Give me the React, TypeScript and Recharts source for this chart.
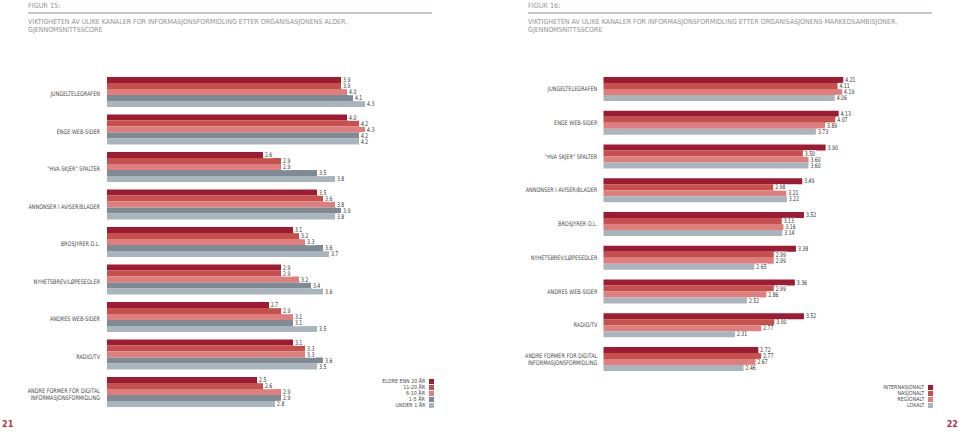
import React from 'react'
import { BarChart, Bar, XAxis, YAxis, LabelList } from 'recharts'

const CATEGORIES = [
  'JUNGELTELEGRAFEN',
  'ENGE WEB-SIDER',
  '"HVA SKJER" SPALTER',
  'ANNONSER I AVISER/BLADER',
  'BROSJYRER O.L.',
  'NYHETSBREV/LØPESEDLER',
  'ANDRES WEB-SIDER',
  'RADIO/TV',
  'ANDRE FORMER FOR DIGITAL\nINFORMASJONSFORMIDLING',
]

// Figur 15: by organisation age
const AGE_LABELS = ['ELDRE ENN 20 ÅR', '11-20 ÅR', '6-10 ÅR', '1-5 ÅR', 'UNDER 1 ÅR']
const over20 = [3.9, 4.0, 2.6, 3.5, 3.1, 2.9, 2.7, 3.1, 2.5]
const y11to20 = [3.9, 4.2, 2.9, 3.6, 3.2, 2.9, 2.9, 3.3, 2.6]
const y6to10 = [4.0, 4.3, 2.9, 3.8, 3.3, 3.2, 3.1, 3.3, 2.9]
const y1to5 = [4.1, 4.2, 3.5, 3.9, 3.6, 3.4, 3.1, 3.6, 2.9]
const under1 = [4.3, 4.2, 3.8, 3.8, 3.7, 3.6, 3.5, 3.5, 2.8]

// Figur 16: by market ambition
const MARKET_LABELS = ['INTERNASJONALT', 'NASJONALT', 'REGIONALT', 'LOKALT']
const internasjonalt = [4.21, 4.13, 3.90, 3.49, 3.52, 3.38, 3.36, 3.52, 2.72]
const nasjonalt = [4.11, 4.07, 3.50, 2.98, 3.13, 2.99, 2.99, 3.00, 2.77]
const regionalt = [4.19, 3.89, 3.60, 3.21, 3.16, 2.99, 2.86, 2.77, 2.67]
const lokalt = [4.06, 3.73, 3.60, 3.22, 3.14, 2.65, 2.52, 2.31, 2.46]

const C_DARK = '#9d1c33'
const C_MID = '#c5514f'
const C_LIGHT = '#e07d7d'
const C_GRAY = '#7e8b95'
const C_PALE = '#a9b5bd'

const AGE_COLORS = [C_DARK, C_MID, C_LIGHT, C_GRAY, C_PALE]
const MARKET_COLORS = [C_DARK, C_MID, C_LIGHT, C_PALE]

const FONT = '"DejaVu Sans Condensed", "Liberation Sans", sans-serif'
const HEAD_FONT = '"DejaVu Sans Condensed", "Liberation Sans", sans-serif'
const SQUEEZE = 0.8
const TICK_SQUEEZE = 0.87

const ageRows = CATEGORIES.map((name, i) => ({
  name, s0: over20[i], s1: y11to20[i], s2: y6to10[i], s3: y1to5[i], s4: under1[i],
}))
const marketRows = CATEGORIES.map((name, i) => ({
  name, s0: internasjonalt[i], s1: nasjonalt[i], s2: regionalt[i], s3: lokalt[i],
}))

// narrow text: squeeze horizontally around the anchor x
const squeeze = (x: number, k = SQUEEZE) => `translate(${x},0) scale(${k},1) translate(${-x},0)`

function CatTick(props: any) {
  const { x, y, payload, shift = 0 } = props
  const lines = String(payload.value).split('\n')
  const lh = 7
  return (
    <text x={x} y={y} textAnchor="end" fontSize={6.3} fill="#4a4a4a" fontFamily={FONT} transform={squeeze(x, TICK_SQUEEZE)}>
      {lines.map((l, i) => (
        <tspan key={i} x={x} dy={i === 0 ? -((lines.length - 1) * lh) / 2 + 2.2 + shift : lh}>
          {l}
        </tspan>
      ))}
    </text>
  )
}

function makeValueLabel(digits: number) {
  return function ValueLabel(props: any) {
    const { x, y, width, height, value } = props
    const txt = Number(value).toFixed(digits)
    const tx = x + width + 1.5
    const cy = y + height / 2
    const w = txt.length * 2.6 + 2
    return (
      <g>
        <rect x={tx - 0.5} y={cy - 3.2} width={w} height={6.4} fill="#fff" />
        <text x={tx + 0.5} y={cy + 2.1} fontSize={6.4} fill="#333" fontFamily={FONT} transform={squeeze(tx + 0.5)}>
          {txt}
        </text>
      </g>
    )
  }
}

function Header({ left, width, fig, title }: { left: number; width: number; fig: string; title: string[] }) {
  return (
    <div style={{ position: 'absolute', left, top: 0, width, fontFamily: HEAD_FONT, color: '#929292' }}>
      <div style={{ position: 'absolute', top: 1, left: 0, fontSize: 7.2 }}>{fig}</div>
      <div style={{ position: 'absolute', top: 12, left: 0, width, height: 2, background: '#cdc5ca' }} />
      <div style={{ position: 'absolute', top: 18, left: 0, fontSize: 7, lineHeight: '8px', whiteSpace: 'nowrap' }}>
        {title.map((t, i) => <div key={i}>{t}</div>)}
      </div>
    </div>
  )
}

function SwatchLegend({ right, top, labels, colors }: { right: number; top: number; labels: string[]; colors: string[] }) {
  return (
    <div style={{ position: 'absolute', right, top, fontFamily: FONT, fontSize: 5.6, lineHeight: '6px', color: '#4a4a4a' }}>
      {labels.map((l, i) => (
        <div key={l} style={{ display: 'flex', justifyContent: 'flex-end', alignItems: 'center', height: 6 }}>
          <span style={{ whiteSpace: 'nowrap', display: 'inline-block', transform: 'scaleX(0.95)', transformOrigin: 'right center' }}>{l}</span>
          <span style={{ display: 'inline-block', width: 5, height: 5, background: colors[i], marginLeft: 4 }} />
        </div>
      ))}
    </div>
  )
}

export default function App() {
  return (
    <div style={{ position: 'absolute', left: 0, top: 0, width: 960, height: 435, background: '#fff', overflow: 'hidden' }}>
      <Header
        left={28}
        width={404}
        fig="FIGUR 15:"
        title={['VIKTIGHETEN AV ULIKE KANALER FOR INFORMASJONSFORMIDLING ETTER ORGANISASJONENS ALDER,', 'GJENNOMSNITTSSCORE']}
      />
      <Header
        left={528}
        width={404}
        fig="FIGUR 16:"
        title={['VIKTIGHETEN AV ULIKE KANALER FOR INFORMASJONSFORMIDLING ETTER ORGANISASJONENS MARKEDSAMBISJONER,', 'GJENNOMSNITTSSCORE']}
      />

      <div style={{ position: 'absolute', left: 0, top: 0 }}>
        <BarChart
          width={480}
          height={435}
          layout="vertical"
          data={ageRows}
          margin={{ top: 72.75, right: 73, bottom: 24.75, left: 0 }}
          barCategoryGap={4.25}
          barGap={0}
        >
          <XAxis type="number" domain={[0, 5]} hide allowDataOverflow />
          <YAxis
            type="category"
            dataKey="name"
            width={107}
            axisLine={false}
            tickLine={false}
            tickMargin={1}
            interval={0}
            tick={<CatTick shift={2.5} />}
          />
          {AGE_LABELS.map((l, i) => (
            <Bar key={l} dataKey={`s${i}`} name={l} fill={AGE_COLORS[i]} isAnimationActive={false}>
              <LabelList dataKey={`s${i}`} content={makeValueLabel(1)} />
            </Bar>
          ))}
        </BarChart>
      </div>

      <div style={{ position: 'absolute', left: 480, top: 0 }}>
        <BarChart
          width={480}
          height={435}
          layout="vertical"
          data={marketRows}
          margin={{ top: 72.1, right: 71.7, bottom: 59.1, left: 0 }}
          barCategoryGap={4.9}
          barGap={0}
        >
          <XAxis type="number" domain={[0, 5]} hide allowDataOverflow />
          <YAxis
            type="category"
            dataKey="name"
            width={123.3}
            axisLine={false}
            tickLine={false}
            tickMargin={0}
            interval={0}
            tick={<CatTick />}
          />
          {MARKET_LABELS.map((l, i) => (
            <Bar key={l} dataKey={`s${i}`} name={l} fill={MARKET_COLORS[i]} isAnimationActive={false}>
              <LabelList dataKey={`s${i}`} content={makeValueLabel(2)} />
            </Bar>
          ))}
        </BarChart>
      </div>

      <SwatchLegend right={960 - 434} top={378} labels={AGE_LABELS} colors={AGE_COLORS} />
      <SwatchLegend right={960 - 933} top={384} labels={MARKET_LABELS} colors={MARKET_COLORS} />

      <div style={{ position: 'absolute', left: 2, top: 419, fontFamily: HEAD_FONT, fontSize: 9, fontWeight: 'bold', color: '#b5364a' }}>21</div>
      <div style={{ position: 'absolute', right: 2, top: 419, fontFamily: HEAD_FONT, fontSize: 9, fontWeight: 'bold', color: '#b5364a' }}>22</div>
    </div>
  )
}
